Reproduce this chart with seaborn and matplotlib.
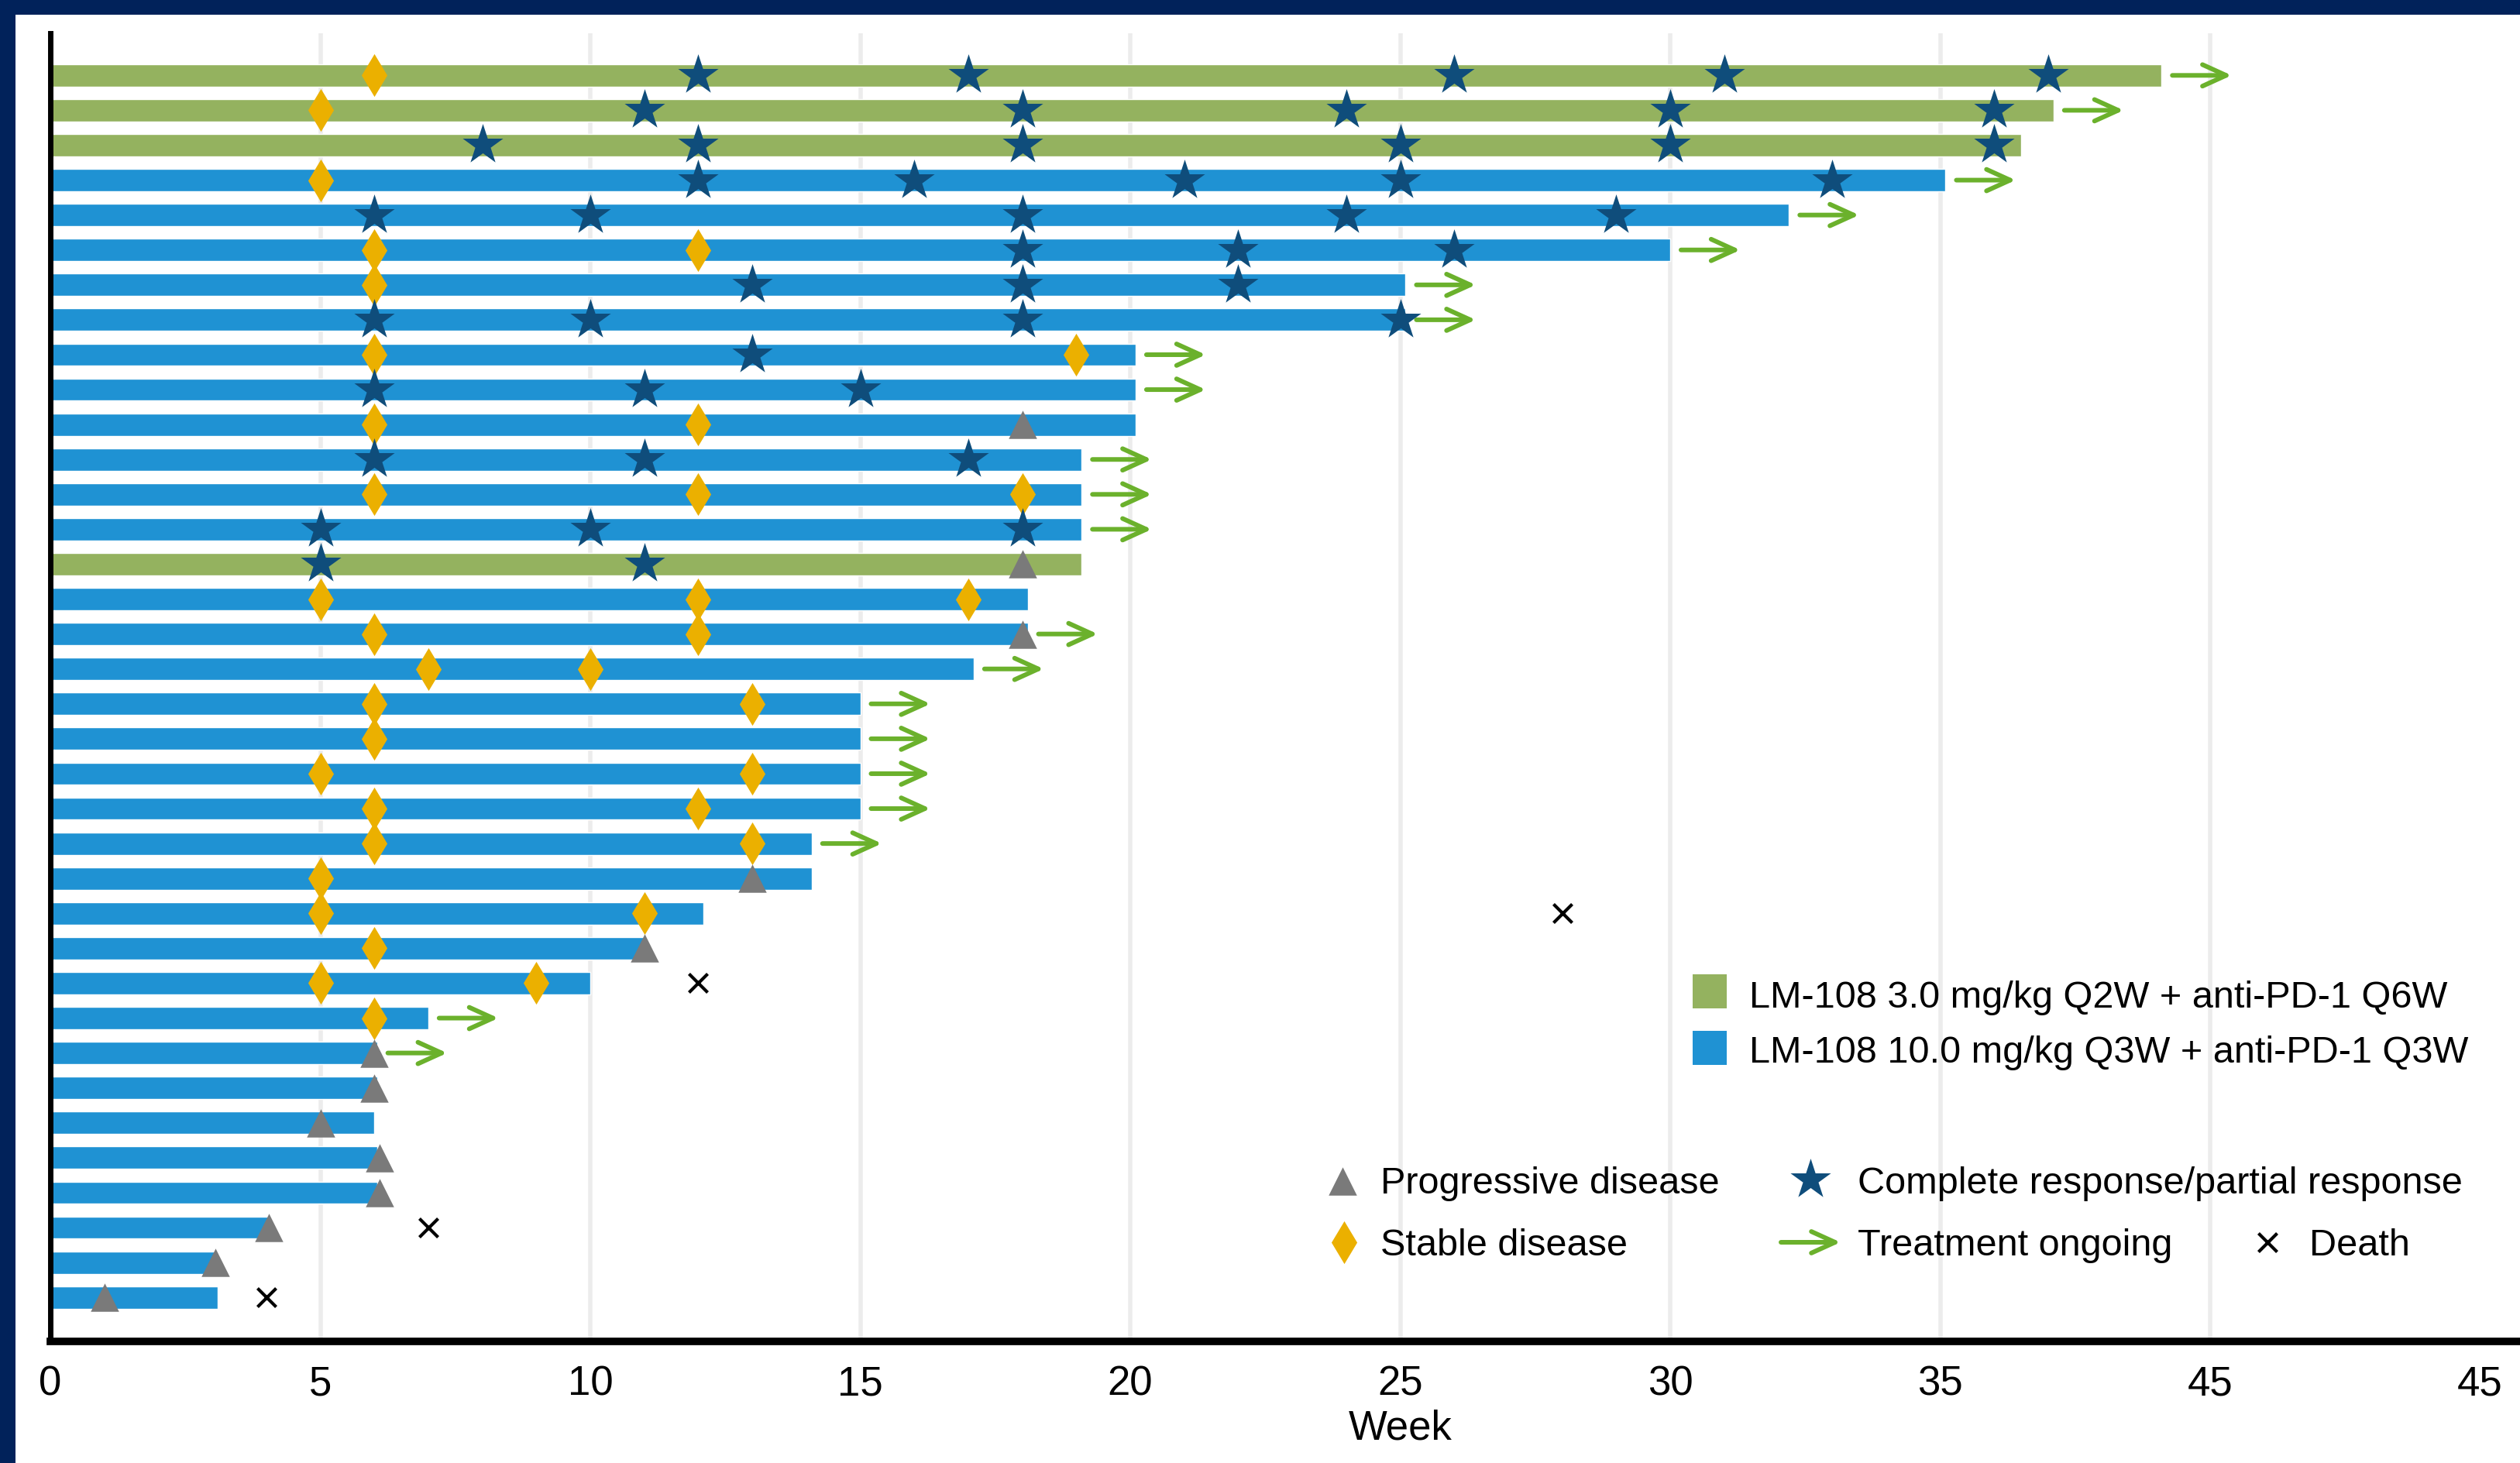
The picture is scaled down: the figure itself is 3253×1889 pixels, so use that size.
import matplotlib
matplotlib.use("Agg")
import matplotlib.pyplot as plt
from matplotlib.patches import Rectangle
import pandas as pd
import seaborn as sns

# ---------------------------------------------------------------- data
patients = [f"P{i:02d}" for i in range(1, 37)]

LOW = "LM-108 3.0 mg/kg Q2W + anti-PD-1 Q6W"
HIGH = "LM-108 10.0 mg/kg Q3W + anti-PD-1 Q3W"
cohort = [LOW, LOW, LOW] + [HIGH] * 11 + [LOW] + [HIGH] * 21

# time on treatment (weeks)
weeks = [39.1, 37.1, 36.5, 35.1, 32.2, 30.0, 25.1, 25.1, 20.1, 20.1,
         20.1, 19.1, 19.1, 19.1, 19.1, 18.1, 18.1, 17.1, 15.0, 15.0,
         15.0, 15.0, 14.1, 14.1, 12.1, 11.0, 10.0, 7.0, 6.05, 6.05,
         6.0, 6.05, 6.05, 4.05, 3.1, 3.1]

# treatment still ongoing at data cut-off
ongoing = [1, 1, 0, 1, 1, 1, 1, 1, 1, 1, 0, 1, 1, 1, 0, 0, 1, 1, 1, 1,
           1, 1, 1, 0, 0, 0, 0, 1, 1, 0, 0, 0, 0, 0, 0, 0]

# assessment weeks per patient
cr_pr = [[12, 17, 26, 31, 37], [11, 18, 24, 30, 36], [8, 12, 18, 25, 30, 36],
         [12, 16, 21, 25, 33], [6, 10, 18, 24, 29], [18, 22, 26], [13, 18, 22],
         [6, 10, 18, 25], [13], [6, 11, 15], [], [6, 11, 17], [], [5, 10, 18],
         [5, 11], [], [], [], [], [], [], [], [], [], [], [], [], [], [], [],
         [], [], [], [], [], []]
stable = [[6], [5], [], [5], [], [6, 12], [6], [], [6, 19], [], [6, 12], [],
          [6, 12, 18], [], [], [5, 12, 17], [6, 12], [7, 10], [6, 13], [6],
          [5, 13], [6, 12], [6, 13], [5], [5, 11], [6], [5, 9], [6], [], [],
          [], [], [], [], [], []]
progressive = [[], [], [], [], [], [], [], [], [], [], [18], [], [], [], [18],
               [], [18], [], [], [], [], [], [], [13], [], [11], [], [], [6],
               [6], [5], [6.1], [6.1], [4.05], [3.05], [1]]
death = [[], [], [], [], [], [], [], [], [], [], [], [], [], [], [], [], [], [],
         [], [], [], [], [], [], [28], [], [12], [], [], [], [], [], [], [7], [], [4]]

tick_values = [0, 5, 10, 15, 20, 25, 30, 35, 40, 45]
tick_labels = ["0", "5", "10", "15", "20", "25", "30", "35", "45", "45"]

# ---------------------------------------------------------------- style
GREEN_BAR = "#94B25F"
BLUE_BAR = "#1F92D3"
STAR_C = "#0F4D7B"
DIAMOND_C = "#EBB000"
TRI_C = "#7A7A7A"
ARROW_C = "#6BB12C"
NAVY = "#01225A"

sns.set_theme(style="white")
plt.rcParams["font.family"] = ["Liberation Sans", "DejaVu Sans"]

W, H, DPI = 3253, 1890, 100
fig = plt.figure(figsize=(W / DPI, H / DPI), dpi=DPI, facecolor="white")

XMAX = (W - 65) / 69.7
ax = fig.add_axes([65 / W, (H - 1733) / H, 1 - 65 / W, (1733 - 44) / H])

df = pd.DataFrame({"patient": patients, "cohort": cohort, "weeks": weeks})
row_of = {p: i for i, p in enumerate(patients)}

sns.barplot(data=df, x="weeks", y="patient", hue="cohort", orient="h",
            palette={LOW: GREEN_BAR, HIGH: BLUE_BAR}, dodge=False,
            width=0.64, saturation=1, errorbar=None, legend=False,
            ax=ax, zorder=2)


def events(values):
    rows = [(p, row_of[p], w) for p, ws in zip(patients, values) for w in ws]
    return pd.DataFrame(rows, columns=["patient", "row", "week"])


ev_star = events(cr_pr)
ev_sd = events(stable)
ev_pd = events(progressive)
ev_death = events(death)

# treatment-ongoing arrows start just past the end of each bar
ARROW_KW = dict(arrowstyle="->,head_length=0.55,head_width=0.25",
                color=ARROW_C, lw=4.3, shrinkA=0, shrinkB=0,
                mutation_scale=40)
for p, w, on in zip(patients, weeks, ongoing):
    if on:
        y = row_of[p]
        ax.annotate("", xy=(w + 1.3, y), xytext=(w + 0.2, y),
                    arrowprops=ARROW_KW, zorder=3)

sns.scatterplot(data=ev_sd, x="week", y="row", marker="d", s=790,
                color=DIAMOND_C, linewidth=0, ax=ax, zorder=4, legend=False)
sns.scatterplot(data=ev_pd, x="week", y="row", marker="^", s=690,
                color=TRI_C, linewidth=0, ax=ax, zorder=4, legend=False)
sns.scatterplot(data=ev_star, x="week", y="row", marker="*", s=1560,
                color=STAR_C, linewidth=0, ax=ax, zorder=5, legend=False)
sns.scatterplot(data=ev_death, x="week", y="row", marker="x", s=300,
                color="black", linewidth=3, ax=ax, zorder=5, legend=False)

# ---------------------------------------------------------------- axes
ax.set_xlim(0, XMAX)
ax.set_ylim(36.26, -1.205)
ax.set_yticks([])
ax.set_ylabel("")
ax.set_xticks(tick_values)
ax.set_xticklabels(tick_labels)
ax.tick_params(axis="x", length=0, pad=21, labelsize=38, labelcolor="black")
ax.set_xlabel("Week", fontsize=38, color="black")
ax.xaxis.set_label_coords(25 / XMAX, -0.051)

ax.set_axisbelow(True)
ax.xaxis.grid(True, color="#ECECEC", linewidth=4)
ax.yaxis.grid(False)
ax.xaxis.get_major_ticks()[-1].gridline.set_visible(False)

for side in ("top", "right"):
    ax.spines[side].set_visible(False)
ax.spines["left"].set_linewidth(5)
ax.spines["left"].set_color("black")
ax.spines["bottom"].set_linewidth(7)
ax.spines["bottom"].set_color("black")
ax.patch.set_alpha(0)

# ---------------------------------------------------------------- legend & frame (pixel overlay)
ov = fig.add_axes([0, 0, 1, 1], zorder=10)
ov.set_xlim(0, W)
ov.set_ylim(H, 0)
ov.axis("off")
ov.patch.set_alpha(0)

LEG_FS = 35
ov.add_patch(Rectangle((2185, 1259), 44, 44, color=GREEN_BAR, lw=0))
ov.text(2258, 1301, LOW, fontsize=LEG_FS, va="baseline", ha="left", color="black")
ov.add_patch(Rectangle((2185, 1332), 44, 44, color=BLUE_BAR, lw=0))
ov.text(2258, 1372, HIGH, fontsize=LEG_FS, va="baseline", ha="left", color="black")

ov.scatter([1733], [1526], marker="^", s=690, color=TRI_C, linewidth=0)
ov.text(1782, 1541, "Progressive disease", fontsize=LEG_FS, va="baseline", color="black")
ov.scatter([1735], [1605], marker="d", s=790, color=DIAMOND_C, linewidth=0)
ov.text(1782, 1621, "Stable disease", fontsize=LEG_FS, va="baseline", color="black")
ov.scatter([2337], [1524], marker="*", s=1560, color=STAR_C, linewidth=0)
ov.text(2398, 1541, "Complete response/partial response", fontsize=LEG_FS,
        va="baseline", color="black")
ov.annotate("", xy=(2376, 1605), xytext=(2299, 1605), arrowprops=ARROW_KW)
ov.text(2398, 1621, "Treatment ongoing", fontsize=LEG_FS, va="baseline", color="black")
ov.scatter([2927], [1605], marker="x", s=300, color="black", linewidth=3)
ov.text(2981, 1621, "Death", fontsize=LEG_FS, va="baseline", color="black")

# navy frame along the top and left edges
ov.add_patch(Rectangle((0, 0), W, 20, color=NAVY, lw=0, clip_on=False))
ov.add_patch(Rectangle((0, 0), 20, H, color=NAVY, lw=0, clip_on=False))

fig.savefig("out.png", dpi=DPI, facecolor="white")
